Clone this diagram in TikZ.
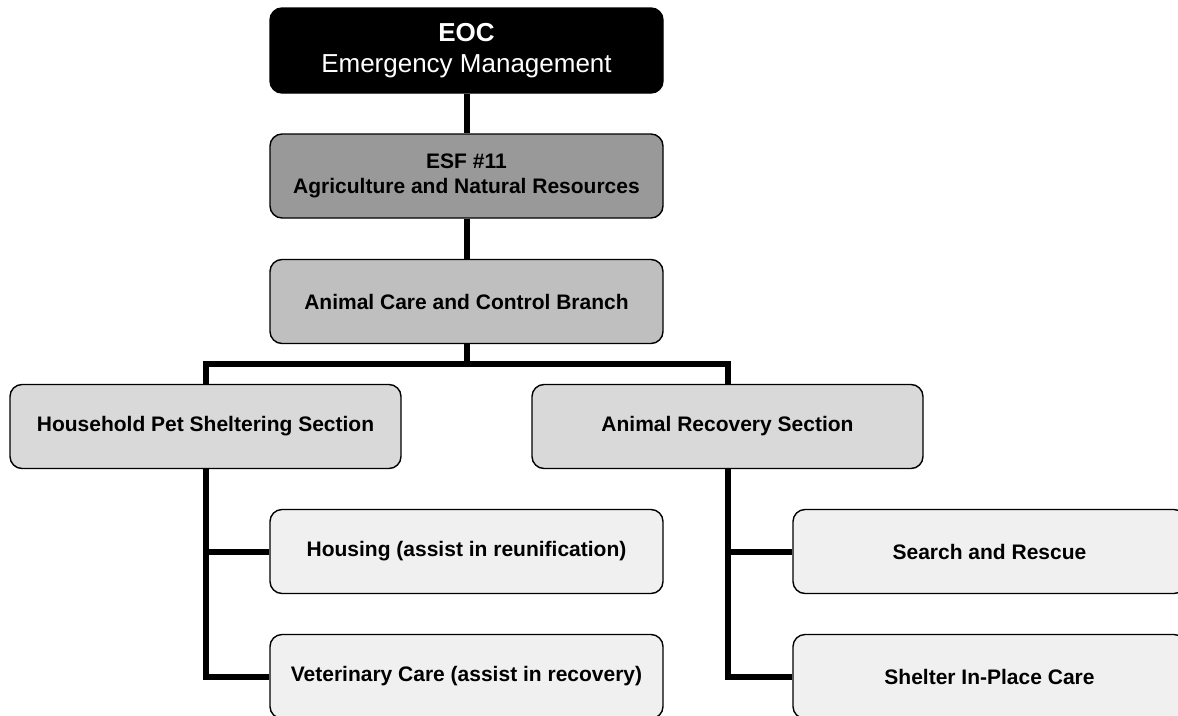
\documentclass[tikz,border=0pt]{standalone}
\usepackage{fontspec}
\setmainfont{Liberation Sans}
\begin{document}
\begin{tikzpicture}[x=1pt,y=-1pt,
  box/.style={draw=black, line width=1.4pt, rounded corners=12pt,
    minimum width=393pt, minimum height=84pt, align=center, inner sep=0pt,
    font=\fontsize{21}{25}\selectfont\bfseries},
  conn/.style={line width=6pt, line join=miter}]
\useasboundingbox (0,0) rectangle (1178,715);
\clip (0,0) rectangle (1178,715);

% chain of command
\node[box, fill=black, text=white, minimum height=85pt,
      font=\fontsize{26}{31}\selectfont] (eoc) at (466.5,50.5)
      {\textbf{EOC}\\Emergency Management};
\node[box, fill=black!40] (esf) at (466.5,176)
      {ESF \#11\\Agriculture and Natural Resources};
\node[box, fill=black!25] (acc) at (466.5,301.5)
      {Animal Care and Control Branch};

% sections
\node[box, fill=black!15, minimum width=391pt] (hps) at (205.5,426.5)
      {Household Pet Sheltering Section};
\node[box, fill=black!15, minimum width=391pt] (ars) at (727.5,426.5)
      {Animal Recovery Section};

% units
\node[box, fill=black!6] (hou) at (466.5,551.5) {Housing (assist in reunification)};
\node[box, fill=black!6] (vet) at (466.5,676.5) {Veterinary Care (assist in recovery)};
\node[box, fill=black!6] (sar) at (989.5,551.5) {Search and Rescue};
\node[box, fill=black!6] (sip) at (989.5,676.5) {Shelter In-Place Care};

\coordinate (bus) at (466.5,364);

% connectors
\draw[conn] (eoc.south) -- (esf.north);
\draw[conn] (esf.south) -- (acc.north);
\draw[conn] (acc.south) -- (bus);
\draw[conn] (hps.north) |- (bus) -| (ars.north);
\draw[conn] (hps.south) |- (vet.west);
\draw[conn] (hps.south |- hou.west) -- (hou.west);
\draw[conn] (ars.south) |- (sip.west);
\draw[conn] (ars.south |- sar.west) -- (sar.west);
\end{tikzpicture}
\end{document}
